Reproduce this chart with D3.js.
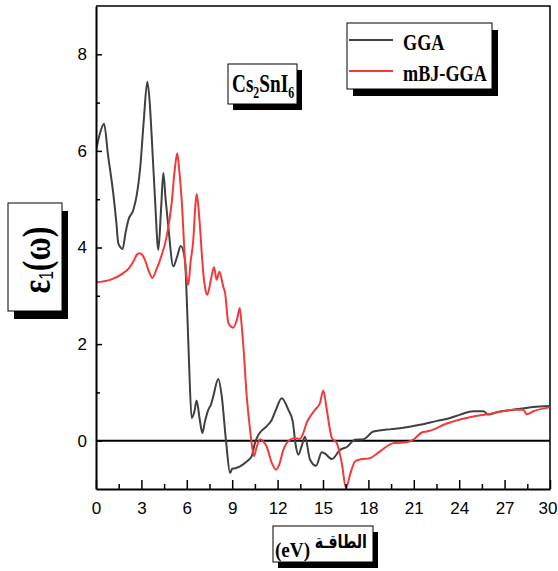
<!DOCTYPE html>
<html>
<head>
<meta charset="utf-8">
<script src="https://cdn.jsdelivr.net/npm/d3@7"></script>
<style>
  html, body { margin: 0; padding: 0; background: #fff; }
  svg { display: block; }
</style>
</head>
<body>
<script>
// Real part of the dielectric function of Cs2SnI6, GGA vs mBJ-GGA
const energyGGA = [0,0.25,0.53,0.8,1.14,1.35,1.47,1.76,1.95,2.14,2.47,2.7,2.91,3.15,3.39,3.55,3.68,3.9,4.12,4.3,4.45,4.6,4.78,5.11,5.35,5.6,5.88,6.0,6.15,6.32,6.5,6.65,6.85,7.03,7.2,7.42,7.6,7.75,8.08,8.31,8.59,8.86,9.0,9.19,9.52,9.96,10.29,10.5,10.73,11.28,11.61,11.9,12.27,12.71,13.0,13.2,13.37,13.6,13.81,14.14,14.54,14.92,15.1,15.58,16.13,16.57,17.12,17.67,18.33,19.21,20.09,21.4,22.52,23.4,24.06,24.94,25.6,25.93,26.48,27.58,28.9,29.97];
const epsGGA = [6.0,6.35,6.56,5.9,5.12,4.5,4.09,3.97,4.3,4.57,4.78,5.1,5.61,6.6,7.43,7.0,6.3,5.0,3.95,4.8,5.54,5.0,4.43,3.61,3.8,4.03,3.74,2.92,1.6,0.47,0.6,0.83,0.45,0.16,0.4,0.64,0.75,0.92,1.28,0.92,0.0,-0.67,-0.58,-0.57,-0.53,-0.43,-0.32,-0.05,0.12,0.3,0.43,0.65,0.88,0.64,0.4,-0.1,-0.29,-0.1,0.08,-0.39,-0.52,-0.24,-0.26,-0.38,-0.19,-0.13,0.02,0.03,0.19,0.23,0.26,0.33,0.41,0.47,0.54,0.61,0.61,0.54,0.59,0.64,0.7,0.72];

const energyMBJ = [0,0.93,1.8,2.2,2.47,2.7,2.86,3.05,3.24,3.5,3.72,4.0,4.23,4.67,5.0,5.2,5.37,5.5,5.66,5.88,6.0,6.1,6.25,6.43,6.55,6.65,6.75,6.87,7.09,7.25,7.36,7.6,7.8,7.97,8.15,8.41,8.53,8.75,9.07,9.34,9.5,9.63,9.74,9.96,10.18,10.44,10.6,10.84,11.0,11.28,11.6,11.9,12.1,12.38,12.82,13.1,13.48,13.7,13.92,14.2,14.47,14.8,15.02,15.25,15.58,15.91,16.24,16.52,16.79,17.12,17.45,18.1,18.77,19.65,20.53,20.97,21.53,21.86,22.52,22.96,23.62,24.94,26.26,27.58,28.24,28.46,28.9,29.97];
const epsMBJ = [3.28,3.33,3.47,3.58,3.71,3.85,3.88,3.85,3.74,3.5,3.37,3.55,3.74,4.23,4.92,5.6,5.95,5.6,4.99,3.74,3.35,3.23,3.7,4.16,4.8,5.11,4.9,4.43,3.47,3.1,3.02,3.35,3.59,3.33,3.5,3.19,3.06,2.43,2.34,2.54,2.75,2.37,1.95,0.92,0.23,-0.32,-0.15,0.03,0.0,-0.12,-0.45,-0.6,-0.5,-0.19,0.02,0.05,0.04,0.16,0.37,0.52,0.64,0.78,1.04,0.64,0.06,-0.05,-0.46,-0.98,-0.7,-0.43,-0.39,-0.36,-0.22,-0.05,-0.03,0.02,0.17,0.19,0.26,0.33,0.4,0.5,0.57,0.64,0.64,0.55,0.61,0.69];

const seriesNames = ["GGA", "mBJ-GGA"];
const seriesColors = ["#404040", "#f23a3a"];
const xTickValues = [0,3,6,9,12,15,18,21,24,27,30];
const xMinorValues = [1.5,4.5,7.5,10.5,13.5,16.5,19.5,22.5,25.5,28.5];
const yTickValues = [0,2,4,6,8];
const yMinorValues = [1,3,5,7];

const W = 558, H = 571;
const plot = { left: 96, right: 550, top: 6, bottom: 489 };

const svg = d3.select("body").append("svg").attr("width", W).attr("height", H);

const x = d3.scaleLinear().domain([0, 30]).range([plot.left, plot.right]);
const y = d3.scaleLinear().domain([-1, 9]).range([plot.bottom, plot.top]);

svg.append("clipPath").attr("id", "plotClip")
  .append("rect").attr("x", plot.left).attr("y", plot.top)
  .attr("width", plot.right - plot.left).attr("height", plot.bottom - plot.top);

// frame: top and right edges
svg.append("path")
  .attr("d", `M${plot.left},${plot.top}H${plot.right}V${plot.bottom}`)
  .attr("fill", "none").attr("stroke", "#000").attr("stroke-width", 1.5);

// zero line
svg.append("line")
  .attr("x1", plot.left).attr("x2", plot.right)
  .attr("y1", y(0)).attr("y2", y(0))
  .attr("stroke", "#000").attr("stroke-width", 2);

const line = d3.line().curve(d3.curveMonotoneX).x(d => x(d[0])).y(d => y(d[1]));
const curves = [
  d3.zip(energyGGA, epsGGA),
  d3.zip(energyMBJ, epsMBJ)
];
svg.append("g").attr("clip-path", "url(#plotClip)")
  .selectAll("path").data(curves).join("path")
  .attr("d", line)
  .attr("fill", "none")
  .attr("stroke", (d, i) => seriesColors[i])
  .attr("stroke-width", 2)
  .attr("stroke-linejoin", "round");

// axes
const tickFont = "'Liberation Sans Narrow', 'Liberation Sans', Arial, sans-serif";
function styleAxis(g) {
  g.select(".domain").attr("stroke", "#000").attr("stroke-width", 2);
  g.selectAll(".tick line").attr("stroke", "#000").attr("stroke-width", 1.5);
  g.selectAll(".tick text").attr("font-family", tickFont).attr("font-size", 17).attr("fill", "#000");
}

svg.append("g").attr("transform", `translate(0,${plot.bottom})`)
  .call(d3.axisBottom(x).tickValues(xMinorValues).tickSize(-5).tickFormat("").tickSizeOuter(0))
  .call(g => { g.select(".domain").remove(); g.selectAll(".tick line").attr("stroke", "#000").attr("stroke-width", 1.5); });
svg.append("g").attr("transform", `translate(0,${plot.bottom})`)
  .call(d3.axisBottom(x).tickValues(xTickValues).tickSize(-9).tickSizeOuter(0).tickPadding(13).tickFormat(d3.format("d")))
  .call(styleAxis)
  .call(g => g.selectAll(".tick text").filter(d => d === 30).attr("text-anchor", "end").attr("dx", 7));

svg.append("g").attr("transform", `translate(${plot.left},0)`)
  .call(d3.axisLeft(y).tickValues(yMinorValues).tickSize(-4).tickFormat("").tickSizeOuter(0))
  .call(g => { g.select(".domain").remove(); g.selectAll(".tick line").attr("stroke", "#000").attr("stroke-width", 1.5); });
svg.append("g").attr("transform", `translate(${plot.left},0)`)
  .call(d3.axisLeft(y).tickValues(yTickValues).tickSize(-6).tickSizeOuter(0).tickPadding(9).tickFormat(d3.format("d")))
  .call(styleAxis);

// boxes with a solid drop shadow
function shadowBox(bx, by, bw, bh, dx, dy) {
  svg.append("rect").attr("x", bx + dx).attr("y", by + dy).attr("width", bw).attr("height", bh).attr("fill", "#000");
  svg.append("rect").attr("x", bx).attr("y", by).attr("width", bw).attr("height", bh)
    .attr("fill", "#fff").attr("stroke", "#000").attr("stroke-width", 1);
}
const serif = "'Liberation Serif', 'Times New Roman', serif";

// legend
shadowBox(347, 23, 145, 66, 6, 7);
const legendRows = [40, 71];
seriesNames.forEach((name, i) => {
  svg.append("line").attr("x1", 349).attr("x2", 393)
    .attr("y1", legendRows[i]).attr("y2", legendRows[i])
    .attr("stroke", seriesColors[i]).attr("stroke-width", 2);
  svg.append("text")
    .attr("transform", `translate(403,${legendRows[i] + 9.5}) scale(0.79,1)`)
    .attr("font-family", serif).attr("font-weight", "bold").attr("font-size", 23)
    .text(name);
});

// compound label
shadowBox(228, 64, 69, 40, 5, 6);
const comp = svg.append("text")
  .attr("transform", "translate(232,92) scale(0.74,1)")
  .attr("font-family", serif).attr("font-weight", "bold").attr("font-size", 26);
comp.append("tspan").text("Cs");
comp.append("tspan").attr("font-size", 16).attr("dy", 6).text("2");
comp.append("tspan").attr("dy", -6).text("SnI");
comp.append("tspan").attr("font-size", 16).attr("dy", 6).text("6");

// y-axis title
shadowBox(8, 203, 54, 108, 6, 8);
const yt = svg.append("text")
  .attr("transform", "translate(50,260) rotate(-90) scale(0.78,1)")
  .attr("text-anchor", "middle")
  .attr("font-family", serif).attr("font-weight", "bold").attr("font-size", 41);
yt.append("tspan").text("ε");
yt.append("tspan").attr("font-size", 20).attr("font-weight", "normal")
  .attr("font-family", "'Liberation Sans', sans-serif").attr("dy", 3).text("1");
yt.append("tspan").attr("dy", -3).text("(ω)");

// x-axis title
shadowBox(273, 526, 100, 36, 5, 6);
svg.append("text")
  .attr("transform", "translate(275,557) scale(0.87,1)")
  .attr("font-family", serif).attr("font-weight", "bold").attr("font-size", 22)
  .text("(eV)");
svg.append("text")
  .attr("transform", "translate(367,548) scale(0.75,1)")
  .attr("text-anchor", "end")
  .attr("font-family", "'DejaVu Sans', sans-serif").attr("font-weight", "bold").attr("font-size", 19)
  .text("الطاقـة");
</script>
</body>
</html>
